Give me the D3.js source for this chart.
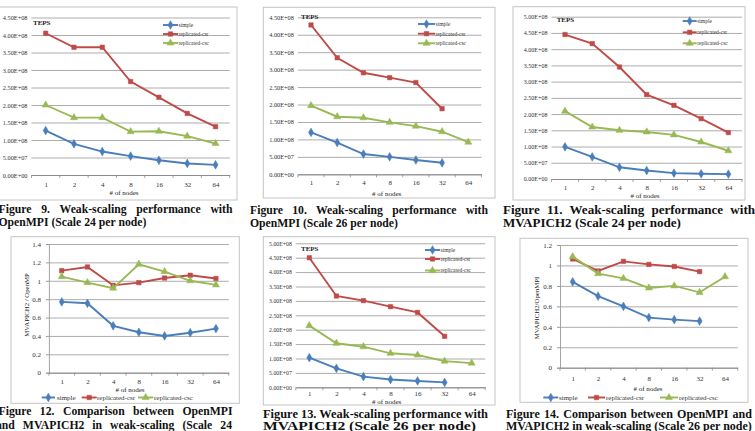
<!DOCTYPE html>
<html><head><meta charset="utf-8">
<script src="https://cdn.jsdelivr.net/npm/d3@7"></script>
<style>html,body{margin:0;padding:0;background:#fff;overflow:hidden}svg{display:block}text{font-family:"Liberation Serif","Times New Roman",serif}</style>
</head><body><svg id="c" width="755" height="431"></svg>
<script>
// ---------- data ----------
const nodeCounts = ["1", "2", "4", "8", "16", "32", "64"];
const seriesNames = ["simple", "replicated-csr", "replicated-csc"];

// Figure 9: OpenMPI, scale 24 per node (TEPS)
const fig9Simple = [1.27e8, 0.89e8, 0.67e8, 0.54e8, 0.42e8, 0.33e8, 0.29e8];
const fig9Csr    = [4.05e8, 3.65e8, 3.65e8, 2.67e8, 2.22e8, 1.76e8, 1.38e8];
const fig9Csc    = [2.00e8, 1.64e8, 1.64e8, 1.24e8, 1.25e8, 1.11e8, 0.90e8];
// Figure 10: OpenMPI, scale 26 per node (TEPS)
const fig10Simple = [1.20e8, 0.91e8, 0.58e8, 0.50e8, 0.41e8, 0.33e8, null];
const fig10Csr    = [4.28e8, 3.34e8, 2.91e8, 2.77e8, 2.63e8, 1.88e8, null];
const fig10Csc    = [1.97e8, 1.65e8, 1.62e8, 1.49e8, 1.38e8, 1.22e8, 0.92e8];
// Figure 11: MVAPICH2, scale 24 per node (TEPS)
const fig11Simple = [0.99e8, 0.68e8, 0.36e8, 0.26e8, 0.18e8, 0.16e8, 0.15e8];
const fig11Csr    = [4.45e8, 4.17e8, 3.45e8, 2.60e8, 2.27e8, 1.86e8, 1.43e8];
const fig11Csc    = [2.09e8, 1.60e8, 1.50e8, 1.45e8, 1.36e8, 1.14e8, 0.87e8];
// Figure 12: MVAPICH2 / OpenMPI ratio, scale 24
const fig12Simple = [0.77, 0.755, 0.51, 0.44, 0.40, 0.435, 0.48];
const fig12Csr    = [1.11, 1.15, 0.95, 0.98, 1.03, 1.06, 1.025];
const fig12Csc    = [1.045, 0.98, 0.92, 1.18, 1.10, 1.00, 0.955];
// Figure 13: MVAPICH2, scale 26 per node (TEPS)
const fig13Simple = [1.03e8, 0.66e8, 0.37e8, 0.27e8, 0.22e8, 0.17e8, null];
const fig13Csr    = [4.50e8, 3.17e8, 3.01e8, 2.80e8, 2.60e8, 1.77e8, null];
const fig13Csc    = [2.14e8, 1.53e8, 1.41e8, 1.18e8, 1.12e8, 0.91e8, 0.84e8];
// Figure 14: MVAPICH2 / OpenMPI ratio, scale 26
const fig14Simple = [0.84, 0.70, 0.60, 0.49, 0.47, 0.456, null];
const fig14Csr    = [1.063, 0.946, 1.04, 1.01, 0.99, 0.94, null];
const fig14Csc    = [1.086, 0.92, 0.874, 0.78, 0.80, 0.737, 0.89];

// tick values
const tepsTicks45 = [0, 5e7, 1e8, 1.5e8, 2e8, 2.5e8, 3e8, 3.5e8, 4e8, 4.5e8];
const tepsTicks50 = [0, 5e7, 1e8, 1.5e8, 2e8, 2.5e8, 3e8, 3.5e8, 4e8, 4.5e8, 5e8];
const ratioTicks14 = [0, 0.2, 0.4, 0.6, 0.8, 1, 1.2, 1.4];
const ratioTicks12 = [0, 0.2, 0.4, 0.6, 0.8, 1, 1.2];

// caption texts
const captionTexts = [
  ["Figure 9. Weak-scaling performance with", "OpenMPI (Scale 24 per node)"],
  ["Figure 10. Weak-scaling performance with", "OpenMPI (Scale 26 per node)"],
  ["Figure 11. Weak-scaling performance with", "MVAPICH2 (Scale 24 per node)"],
  ["Figure 12. Comparison between OpenMPI", "and MVAPICH2 in weak-scaling (Scale 24"],
  ["Figure 13. Weak-scaling performance with", "MVAPICH2 (Scale 26 per node)"],
  ["Figure 14. Comparison between OpenMPI and", "MVAPICH2 in weak-scaling (Scale 26 per node)"]
];

// ---------- styles ----------
const colors = ["#4a7ebb", "#be4b48", "#98b954"];
const symbols = [d3.symbolDiamond, d3.symbolSquare, d3.symbolTriangle];
const symSizes = [22, 20, 22];

const fmtE = v => {
  if (v === 0) return "0.00E+00";
  const e = Math.floor(Math.log10(v) + 1e-9);
  return (v / Math.pow(10, e)).toFixed(2) + "E+" + String(e).padStart(2, "0");
};
const fmtR = v => String(Math.round(v * 10) / 10);

const svg = d3.select("#c");
svg.append("rect").attr("width", 755).attr("height", 431).attr("fill", "#fff");

const panels = [
  {frame: [-5, 7, 237, 200], x: [31.5, 229.7], y: [175, 17.5], max: 4.5e8, ticks: tepsTicks45, fmt: fmtE, tickFs: 6.3,
   series: [fig9Simple, fig9Csr, fig9Csc], catY: 184.5, xlab: [124, 192.5], teps: [33, 22.7],
   legend: {x0: 163, x1: 178, ys: [25, 34, 43]}},
  {frame: [263.3, 7.3, 495, 198], x: [297.9, 481.4], y: [174.3, 17.3], max: 4.5e8, ticks: tepsTicks45, fmt: fmtE, tickFs: 6.3,
   series: [fig10Simple, fig10Csr, fig10Csc], catY: 182.5, xlab: [386.7, 193.5], teps: [301, 16.5],
   legend: {x0: 418, x1: 435, ys: [24, 33.7, 43.3]}},
  {frame: [513, 6.7, 745, 200], x: [551.4, 742], y: [179, 16.7], max: 5e8, ticks: tepsTicks50, fmt: fmtE, tickFs: 6,
   series: [fig11Simple, fig11Csr, fig11Csc], catY: 187.5, xlab: [645, 195.2], teps: [556.7, 20],
   legend: {x0: 682.7, x1: 696.7, ys: [21, 32.3, 43.3]}},
  {frame: [11, 236.7, 239.3, 403.3], x: [48.9, 228.8], y: [372.7, 244], max: 1.4, ticks: ratioTicks14, fmt: fmtR, tickFs: 7,
   series: [fig12Simple, fig12Csr, fig12Csc], catY: 381.5, xlab: [130, 390], ratio: true,
   ylab: {x: 26.7, y: 305, text: "MVAPICH2 / OpenMP"},
   blegend: {y: 397.5, items: [[41.7, 55, 57], [81.7, 96.7, 97], [138, 153.3, 154]]}},
  {frame: [263.3, 236.7, 495, 405], x: [295.8, 485.2], y: [387.3, 243.3], max: 5e8, ticks: tepsTicks50, fmt: fmtE, tickFs: 5.8,
   series: [fig13Simple, fig13Csr, fig13Csc], catY: 393.6, xlab: [386.7, 401.2], teps: [301, 249],
   legend: {x0: 425, x1: 440, ys: [250, 259, 270.5]}},
  {frame: [520, 238.3, 748, 402.3], x: [560, 737.7], y: [367.7, 245], max: 1.2, ticks: ratioTicks12, fmt: fmtR, tickFs: 7,
   series: [fig14Simple, fig14Csr, fig14Csc], catY: 378.5, xlab: [648, 388.5], ratio: true,
   ylab: {x: 536.7, y: 308, text: "MVAPICH2/OpenMPI"},
   blegend: {y: 397.5, items: [[543.3, 558.3, 559], [588, 605, 606], [660, 678, 679]]}}
];

function marker(g, i, cx, cy) {
  g.append("path")
    .attr("d", d3.symbol().type(symbols[i]).size(symSizes[i])())
    .attr("transform", `translate(${cx},${cy})`)
    .attr("fill", colors[i]).attr("stroke", colors[i]).attr("stroke-width", 0.5);
}

function drawPanel(p) {
  const g = svg.append("g");
  g.append("rect").attr("x", p.frame[0]).attr("y", p.frame[1])
    .attr("width", p.frame[2] - p.frame[0]).attr("height", p.frame[3] - p.frame[1])
    .attr("fill", "#fff").attr("stroke", "#c4c4c4").attr("stroke-width", 1);
  const x = d3.scalePoint().domain(nodeCounts).range(p.x).padding(0.5);
  const y = d3.scaleLinear().domain([0, p.max]).range(p.y);
  const w = p.x[1] - p.x[0];

  // gridlines
  const grid = g.append("g").attr("transform", `translate(${p.x[0]},0)`)
    .call(d3.axisLeft(y).tickValues(p.ticks).tickSize(-w).tickFormat(""));
  grid.select(".domain").remove();
  grid.selectAll("line").attr("stroke", "#a3a3a3").attr("stroke-width", 0.9);

  // y axis labels
  const ya = g.append("g").attr("transform", `translate(${p.x[0]},0)`)
    .call(d3.axisLeft(y).tickValues(p.ticks).tickFormat(p.fmt).tickSize(p.ratio ? 3 : 0).tickPadding(p.ratio ? 5 : 4));
  ya.select(".domain").attr("stroke", p.ratio ? "#9a9a9a" : "none").attr("stroke-width", 0.9);
  ya.selectAll("line").attr("stroke", "#9a9a9a");
  ya.selectAll("text").attr("font-size", p.tickFs).attr("fill", "#333")
    .attr("font-family", "Liberation Serif");

  // x axis
  const xa = g.append("g").attr("transform", `translate(0,${y(0)})`)
    .call(d3.axisBottom(x).tickSize(0).tickPadding(0).tickSizeOuter(0));
  xa.select(".domain").attr("stroke", "#8c8c8c").attr("stroke-width", 1);
  xa.selectAll("text").attr("font-size", 7).attr("fill", "#333").attr("font-family", "Liberation Serif")
    .attr("y", p.catY - y(0)).attr("dy", "0.35em");
  const step = x.step();
  xa.selectAll(".bt").data(d3.range(nodeCounts.length + 1)).join("line")
    .attr("x1", i => p.x[0] + i * step).attr("x2", i => p.x[0] + i * step)
    .attr("y1", 0).attr("y2", 3).attr("stroke", "#8c8c8c").attr("stroke-width", 0.8);

  g.append("text").attr("x", p.xlab[0]).attr("y", p.xlab[1]).attr("dy", "0.35em")
    .attr("text-anchor", "middle").attr("font-size", 7).attr("fill", "#222").text("# of nodes");

  // series
  p.series.forEach((vals, i) => {
    const pts = nodeCounts.map((c, k) => [c, vals[k]]);
    g.append("path").datum(pts)
      .attr("d", d3.line().defined(d => d[1] != null).x(d => x(d[0])).y(d => y(d[1])))
      .attr("fill", "none").attr("stroke", colors[i]).attr("stroke-width", 1.9);
    pts.filter(d => d[1] != null).forEach(d => marker(g, i, x(d[0]), y(d[1])));
  });

  if (p.teps) {
    g.append("text").attr("x", p.teps[0]).attr("y", p.teps[1]).attr("dy", "0.35em")
      .attr("font-size", 7).attr("font-weight", "bold").attr("fill", "#222").text("TEPS");
  }
  if (p.legend) {
    p.legend.ys.forEach((ly, i) => {
      g.append("line").attr("x1", p.legend.x0).attr("x2", p.legend.x1).attr("y1", ly).attr("y2", ly)
        .attr("stroke", colors[i]).attr("stroke-width", 1.9);
      marker(g, i, (p.legend.x0 + p.legend.x1) / 2, ly);
      g.append("text").attr("x", p.legend.x1 + 0.5).attr("y", ly).attr("dy", "0.35em")
        .attr("font-size", 5.5).attr("fill", "#333").text(seriesNames[i]);
    });
  }
  if (p.blegend) {
    p.blegend.items.forEach((it, i) => {
      const ly = p.blegend.y;
      g.append("line").attr("x1", it[0]).attr("x2", it[1]).attr("y1", ly).attr("y2", ly)
        .attr("stroke", colors[i]).attr("stroke-width", 1.9);
      marker(g, i, (it[0] + it[1]) / 2, ly);
      g.append("text").attr("x", it[2]).attr("y", ly).attr("dy", "0.35em")
        .attr("font-size", 7).attr("fill", "#333").text(seriesNames[i]);
    });
  }
  if (p.ylab) {
    g.append("text").attr("transform", `translate(${p.ylab.x},${p.ylab.y}) rotate(-90)`)
      .attr("text-anchor", "middle").attr("dy", "0.35em").attr("font-size", 6.8).attr("fill", "#222")
      .text(p.ylab.text);
  }
}
panels.forEach(drawPanel);

// ---------- captions ----------
const capLayout = [
  {x: -1.5, w: 234, y1: 213, y2: 226, l2w: 148},
  {x: 250, w: 238, y1: 213.5, y2: 226.5, l2w: 148},
  {x: 503, w: 252, y1: 213.5, y2: 226.5, l2w: 178},
  {x: -1.5, w: 234, y1: 415, y2: 429, x2: -4, w2: 236, just2: true, fsFrom: 0},
  {x: 263, w: 225, y1: 417.5, y2: 430, l2w: 213, squeeze: true, fs: 13},
  {x: 506, w: 246, y1: 417.5, y2: 429.8, l2w: 246}
];
const capFs = [];
capLayout.forEach((c, k) => {
  const [t1, t2] = captionTexts[k];
  const cg = svg.append("g").attr("font-weight", "bold").attr("fill", "#111");
  if (c.squeeze) {
    // this caption is scaled unevenly in the source: fit both lines to their measured extents
    cg.append("text").attr("x", c.x).attr("y", c.y1).attr("font-size", c.fs)
      .attr("textLength", c.w).attr("lengthAdjust", "spacingAndGlyphs").text(t1);
    cg.append("text").attr("x", c.x).attr("y", c.y2).attr("font-size", c.fs)
      .attr("textLength", c.l2w).attr("lengthAdjust", "spacingAndGlyphs").text(t2);
    capFs[k] = c.fs;
    return;
  }
  let fs;
  if (c.fsFrom != null) fs = capFs[c.fsFrom];
  else {
    const probe = cg.append("text").attr("font-size", 12).text(t2);
    fs = 12 * c.l2w / probe.node().getComputedTextLength();
    probe.remove();
  }
  capFs[k] = fs;
  const justify = (txt, x0, width, yy) => {
    const t = cg.append("text").attr("x", x0).attr("y", yy).attr("font-size", fs).text(txt);
    const nat = t.node().getComputedTextLength();
    const spaces = (txt.match(/ /g) || []).length;
    t.style("word-spacing", ((width - nat) / spaces) + "px");
  };
  justify(t1, c.x, c.w, c.y1);
  if (c.just2) justify(t2, c.x2, c.w2, c.y2);
  else cg.append("text").attr("x", c.x).attr("y", c.y2).attr("font-size", fs).text(t2);
});
</script></body></html>
